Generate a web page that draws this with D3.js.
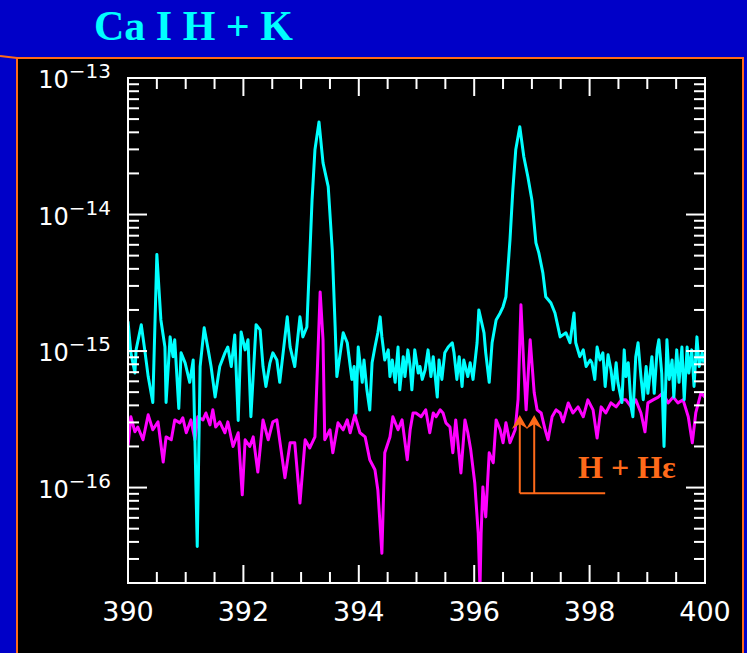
<!DOCTYPE html>
<html>
<head>
<meta charset="utf-8">
<script src="https://cdn.jsdelivr.net/npm/d3@7"></script>
<style>
  html, body { margin: 0; padding: 0; background: #0000c8; }
  svg { display: block; }
</style>
</head>
<body>
<div id="chart"></div>
<script>
// wavelength in nm, flux on a log axis
const cyanWl = [
  390.00, 390.05, 390.12, 390.14, 390.23, 390.29, 390.35, 390.43, 390.50, 390.57,
  390.64, 390.66, 390.73, 390.78, 390.81, 390.88, 390.92, 390.99, 391.07, 391.13,
  391.20, 391.25, 391.32, 391.39, 391.44, 391.51, 391.59, 391.68, 391.73, 391.79,
  391.85, 391.91, 391.96, 392.03, 392.08, 392.13, 392.22, 392.29, 392.34, 392.39,
  392.46, 392.51, 392.58, 392.63, 392.76, 392.81, 392.89, 392.98, 393.03, 393.10,
  393.19, 393.24, 393.31, 393.38, 393.47, 393.54, 393.59,
  393.62, 393.67, 393.73, 393.80, 393.83, 393.88, 393.92, 393.95, 393.99, 394.06,
  394.09, 394.14, 394.19, 394.23, 394.28, 394.33, 394.37, 394.40, 394.45, 394.51,
  394.54, 394.58, 394.63, 394.68, 394.71, 394.77, 394.80, 394.85, 394.89, 394.92,
  394.97, 395.03, 395.06, 395.10, 395.15, 395.20, 395.25, 395.29, 395.36, 395.39,
  395.44, 395.49, 395.55, 395.62, 395.65, 395.70, 395.74, 395.79, 395.82, 395.89,
  395.93, 395.98, 396.05, 396.08,
  396.17, 396.20, 396.26, 396.31, 396.38, 396.45, 396.50, 396.55, 396.62, 396.67,
  396.72, 396.79, 396.86, 396.93, 397.00, 397.07, 397.12, 397.19, 397.24, 397.33,
  397.40, 397.49, 397.59, 397.66, 397.73, 397.76, 397.83, 397.89, 397.94, 398.01,
  398.04, 398.09, 398.13, 398.18, 398.23, 398.27, 398.32, 398.37, 398.41, 398.46,
  398.49, 398.56, 398.60, 398.63, 398.67, 398.72, 398.75, 398.80, 398.84, 398.89,
  398.93, 398.98, 399.01, 399.08, 399.12, 399.17, 399.20, 399.25, 399.29, 399.34,
  399.38, 399.43, 399.46, 399.51, 399.55, 399.60, 399.64, 399.69, 399.72, 399.77,
  399.81, 399.86, 399.90, 399.95, 399.98
];
const cyanFlux = [
  1.65e-15, 9.7e-16, 6.9e-16, 1.02e-15, 1.56e-15, 1.02e-15, 6.5e-16, 4.2e-16, 5.1e-15, 1.69e-15,
  1.07e-15, 4.2e-16, 1.27e-15, 9.1e-16, 1.21e-15, 3.8e-16, 9.7e-16, 8.2e-16, 5.9e-16, 8.6e-16,
  3.7e-17, 7.7e-16, 1.48e-15, 1.02e-15, 7.7e-16, 4.6e-16, 7.7e-16, 9.7e-16, 1.07e-15, 7.7e-16,
  1.31e-15, 3.1e-16, 1.38e-15, 1.02e-15, 1.21e-15, 3.3e-16, 1.56e-15, 1.43e-15, 7.7e-16, 5.5e-16,
  8.2e-16, 9.7e-16, 8.6e-16, 5.9e-16, 1.78e-15, 1.07e-15, 7.7e-16, 1.78e-15, 1.27e-15, 1.50e-15,
  1.28e-14, 2.98e-14, 4.77e-14, 2.39e-14, 1.6e-14, 5.5e-15, 1.50e-15,
  6.5e-16, 9.1e-16, 1.36e-15, 1.15e-15, 9.1e-16, 6.2e-16, 7.7e-16, 3.5e-16, 1.07e-15, 5.9e-16,
  8.6e-16, 5.2e-16, 3.7e-16, 8.2e-16, 1.07e-15, 1.36e-15, 1.78e-15, 1.27e-15, 8.6e-16, 1.02e-15,
  6.5e-16, 8.6e-16, 5.9e-16, 1.07e-15, 5.2e-16, 9.1e-16, 6.5e-16, 1.02e-15, 7.7e-16, 5.2e-16,
  1.02e-15, 6.9e-16, 7.7e-16, 6.2e-16, 7.3e-16, 1.02e-15, 6.5e-16, 9.1e-16, 4.6e-16, 8.6e-16,
  6.2e-16, 9.7e-16, 1.07e-15, 1.15e-15, 9.7e-16, 6.2e-16, 9.1e-16, 5.5e-16, 8.6e-16, 6.5e-16,
  8.2e-16, 6.2e-16, 1.15e-15, 2.0e-15,
  1.36e-15, 9.7e-16, 5.9e-16, 1.15e-15, 1.69e-15, 1.9e-15, 2.11e-15, 2.5e-15, 6.5e-15, 1.52e-14,
  2.98e-14, 4.39e-14, 2.65e-14, 1.89e-14, 1.28e-14, 6.2e-15, 5.24e-15, 3.74e-15, 2.5e-15, 2.25e-15,
  1.9e-15, 1.27e-15, 1.36e-15, 1.15e-15, 1.9e-15, 1.15e-15, 9.1e-16, 1.02e-15, 7.7e-16, 8.6e-16,
  8.2e-16, 6.2e-16, 1.07e-15, 8.6e-16, 9.7e-16, 5.5e-16, 9.4e-16, 7.3e-16, 5.2e-16, 8.2e-16,
  5.9e-16, 4.2e-16, 1.02e-15, 6.5e-16, 8.2e-16, 3.9e-16, 3.3e-16, 9.1e-16, 1.15e-15, 6.5e-16,
  4.4e-16, 7.7e-16, 4.9e-16, 9.1e-16, 4.9e-16, 1.02e-15, 1.21e-15, 6.9e-16, 2.0e-16, 1.21e-15,
  6.2e-16, 8.6e-16, 4.6e-16, 1.02e-15, 5.9e-16, 1.07e-15, 4.4e-16, 1.07e-15, 6.9e-16, 1.02e-15,
  5.5e-16, 1.27e-15, 7.7e-16, 9.7e-16, 8.2e-16
];

const magentaWl = [
  390.00, 390.05, 390.12, 390.17, 390.26, 390.35, 390.43, 390.52, 390.61, 390.66,
  390.75, 390.81, 390.90, 390.95, 391.01, 391.09, 391.16, 391.21, 391.30, 391.35,
  391.42, 391.47, 391.52, 391.59, 391.68, 391.73, 391.82, 391.91, 391.98, 392.03,
  392.11, 392.17, 392.25, 392.34, 392.43, 392.51, 392.58, 392.72, 392.81, 392.89,
  392.98, 393.07, 393.15, 393.24, 393.33, 393.38, 393.41, 393.50, 393.55, 393.64,
  393.73, 393.80, 393.85, 393.93, 394.02, 394.11, 394.19, 394.28, 394.33, 394.40,
  394.45, 394.54, 394.59, 394.68, 394.75, 394.84, 394.89, 394.94, 394.99, 395.08,
  395.16, 395.23, 395.29, 395.34, 395.41, 395.46, 395.51, 395.58, 395.63, 395.68,
  395.77, 395.84, 395.89, 395.94, 396.01, 396.07, 396.10, 396.12, 396.15, 396.20,
  396.26, 396.33, 396.38, 396.45, 396.50, 396.55, 396.62, 396.71, 396.76, 396.81,
  396.86, 396.90, 396.97, 397.04, 397.09, 397.16, 397.23, 397.28, 397.35, 397.42,
  397.49, 397.54, 397.63, 397.71, 397.80, 397.89, 397.97, 398.06, 398.13, 398.20,
  398.28, 398.37, 398.46, 398.55, 398.63, 398.72, 398.80, 398.89, 398.96, 399.01,
  399.10, 399.19, 399.27, 399.36, 399.45, 399.53, 399.62, 399.71, 399.78, 399.84,
  399.93, 400.00
];
const magentaFlux = [
  2.0e-16, 3.3e-16, 2.56e-16, 2.78e-16, 2.24e-16, 3.41e-16, 2.65e-16, 3.03e-16, 1.54e-16, 2.35e-16,
  2.24e-16, 3.13e-16, 2.98e-16, 3.24e-16, 2.52e-16, 3.13e-16, 2.24e-16, 3.3e-16, 3.13e-16, 3.52e-16,
  2.88e-16, 3.71e-16, 2.78e-16, 3.03e-16, 2.52e-16, 3.03e-16, 2.0e-16, 2.52e-16, 8.85e-17, 2.24e-16,
  2.0e-16, 2.35e-16, 1.30e-16, 3.13e-16, 2.24e-16, 3.03e-16, 3.13e-16, 1.18e-16, 2.13e-16, 2.13e-16,
  7.7e-17, 2.24e-16, 1.95e-16, 2.35e-16, 2.71e-15, 1.21e-15, 2.24e-16, 2.65e-16, 1.8e-16, 2.98e-16,
  2.65e-16, 3.13e-16, 2.52e-16, 3.41e-16, 2.52e-16, 2.35e-16, 1.6e-16, 1.35e-16, 9.6e-17, 3.3e-17,
  1.8e-16, 2.35e-16, 3.3e-16, 2.65e-16, 3.13e-16, 1.6e-16, 2.65e-16, 3.52e-16, 3.52e-16, 3.3e-16,
  3.71e-16, 2.52e-16, 3.52e-16, 3.3e-16, 3.71e-16, 3.52e-16, 2.98e-16, 2.78e-16, 1.8e-16, 3.13e-16,
  1.28e-16, 3.13e-16, 2.52e-16, 1.89e-16, 1.08e-16, 4.6e-17, 1.8e-17, 4.6e-17, 1.01e-16, 6.1e-17,
  1.8e-16, 1.52e-16, 3.13e-16, 2.65e-16, 2.13e-16, 2.98e-16, 2.13e-16, 2.65e-16, 4.4e-16, 2.18e-15,
  7.65e-16, 3.71e-16, 1.21e-15, 4.94e-16, 3.71e-16, 3.52e-16, 2.65e-16, 2.24e-16, 3.3e-16, 3.71e-16,
  3.52e-16, 3.03e-16, 4.17e-16, 3.52e-16, 3.9e-16, 3.3e-16, 4.39e-16, 3.71e-16, 2.31e-16, 3.9e-16,
  3.52e-16, 4.17e-16, 3.9e-16, 4.39e-16, 4.39e-16, 3.9e-16, 4.39e-16, 3.52e-16, 2.56e-16, 4.17e-16,
  4.39e-16, 4.6e-16, 4.94e-16, 4.17e-16, 4.6e-16, 4.17e-16, 4.39e-16, 3.3e-16, 2.13e-16, 3.52e-16,
  4.94e-16, 4.6e-16
];

const xTickLabels = [390, 392, 394, 396, 398, 400];
const yTickLabels = [1e-13, 1e-14, 1e-15, 1e-16];

// H + H-epsilon marker
const arrowWl = [396.79, 397.04];
const arrowFlux = [3.4e-16, 9.1e-17];
const bracketEndWl = 398.27;
const noteWl = 397.80;
const noteFlux = 1.18e-16;

const width = 747;
const height = 653;
const box = { left: 128, right: 705, top: 78, bottom: 583 };

const svg = d3.select(`#chart`).append(`svg`)
    .attr(`width`, width)
    .attr(`height`, height);

svg.append(`rect`)
    .attr(`width`, width)
    .attr(`height`, height)
    .attr(`fill`, `#0000c8`);

svg.append(`text`)
    .attr(`x`, 94)
    .attr(`y`, 40)
    .attr(`fill`, `#00ffff`)
    .style(`font`, `bold 42px "Liberation Serif", serif`)
    .text(`Ca I H + K`);

// black panel with its orange edge
svg.append(`line`)
    .attr(`x1`, 0).attr(`y1`, 56)
    .attr(`x2`, 17).attr(`y2`, 58)
    .attr(`stroke`, `#ff6a1a`)
    .attr(`stroke-width`, 2);
svg.append(`rect`)
    .attr(`x`, 17)
    .attr(`y`, 58)
    .attr(`width`, 726)
    .attr(`height`, 640)
    .attr(`fill`, `#000`)
    .attr(`stroke`, `#ff6a1a`)
    .attr(`stroke-width`, 2);

const x = d3.scaleLinear()
    .domain([390, 400])
    .range([box.left, box.right]);
const y = d3.scaleLog()
    .domain([2e-17, 1e-13])
    .range([box.bottom, box.top]);

svg.append(`clipPath`)
    .attr(`id`, `plot-clip`)
  .append(`rect`)
    .attr(`x`, box.left)
    .attr(`y`, box.top)
    .attr(`width`, box.right - box.left)
    .attr(`height`, box.bottom - box.top);

const line = d3.line()
    .x((d) => x(d[0]))
    .y((d) => y(d[1]));

const plot = svg.append(`g`).attr(`clip-path`, `url(#plot-clip)`);

plot.append(`path`)
    .datum(d3.zip(magentaWl, magentaFlux))
    .attr(`d`, line)
    .attr(`fill`, `none`)
    .attr(`stroke`, `#ff00ff`)
    .attr(`stroke-width`, 3)
    .attr(`stroke-linejoin`, `round`);

plot.append(`path`)
    .datum(d3.zip(cyanWl, cyanFlux))
    .attr(`d`, line)
    .attr(`fill`, `none`)
    .attr(`stroke`, `#00ffff`)
    .attr(`stroke-width`, 3)
    .attr(`stroke-linejoin`, `round`);

// frame and inward ticks
const axes = svg.append(`g`)
    .attr(`stroke`, `#fff`)
    .attr(`stroke-width`, 2);

axes.append(`rect`)
    .attr(`x`, box.left)
    .attr(`y`, box.top)
    .attr(`width`, box.right - box.left)
    .attr(`height`, box.bottom - box.top)
    .attr(`fill`, `none`);

const isMajorX = (v) => xTickLabels.includes(Math.round(v * 100) / 100);
x.ticks(20).forEach((v) => {
  const len = isMajorX(v) ? 18 : 11;
  axes.append(`line`)
      .attr(`x1`, x(v)).attr(`x2`, x(v))
      .attr(`y1`, box.bottom).attr(`y2`, box.bottom - len);
  axes.append(`line`)
      .attr(`x1`, x(v)).attr(`x2`, x(v))
      .attr(`y1`, box.top).attr(`y2`, box.top + len);
});

const isMajorY = (v) => Math.abs(Math.log10(v) - Math.round(Math.log10(v))) < 1e-6;
y.ticks().forEach((v) => {
  const len = isMajorY(v) ? 19 : 11;
  axes.append(`line`)
      .attr(`x1`, box.left).attr(`x2`, box.left + len)
      .attr(`y1`, y(v)).attr(`y2`, y(v));
  axes.append(`line`)
      .attr(`x1`, box.right).attr(`x2`, box.right - len)
      .attr(`y1`, y(v)).attr(`y2`, y(v));
});

svg.append(`g`)
    .selectAll(`text`)
    .data(xTickLabels)
  .enter().append(`text`)
    .attr(`x`, (d) => x(d))
    .attr(`y`, box.bottom + 38)
    .attr(`text-anchor`, `middle`)
    .attr(`fill`, `#fff`)
    .style(`font`, `27px "DejaVu Sans", sans-serif`)
    .text((d) => d);

const yLabels = svg.append(`g`)
    .selectAll(`text`)
    .data(yTickLabels)
  .enter().append(`text`)
    .attr(`x`, 111)
    .attr(`y`, (d) => y(d) + 10)
    .attr(`text-anchor`, `end`)
    .attr(`fill`, `#fff`)
    .style(`font`, `24px "DejaVu Sans", sans-serif`);
yLabels.append(`tspan`).text(`10`);
yLabels.append(`tspan`)
    .attr(`dy`, -10)
    .style(`font-size`, `20px`)
    .text((d) => `\u2212${Math.round(-Math.log10(d))}`);

// arrows for H and H-epsilon
const note = svg.append(`g`)
    .attr(`stroke`, `#ff6a1a`)
    .attr(`fill`, `#ff6a1a`)
    .attr(`stroke-width`, 2);

arrowWl.forEach((wl) => {
  const ax = x(wl);
  const tip = y(arrowFlux[0]);
  note.append(`line`)
      .attr(`x1`, ax).attr(`x2`, ax)
      .attr(`y1`, y(arrowFlux[1])).attr(`y2`, tip + 4);
  note.append(`path`)
      .attr(`stroke`, `none`)
      .attr(`d`, `M${ax},${tip} L${ax + 8},${tip + 14} L${ax},${tip + 9} L${ax - 8},${tip + 14} Z`);
});

note.append(`line`)
    .attr(`x1`, x(arrowWl[0])).attr(`x2`, x(bracketEndWl))
    .attr(`y1`, y(arrowFlux[1])).attr(`y2`, y(arrowFlux[1]));

svg.append(`text`)
    .attr(`x`, x(noteWl))
    .attr(`y`, y(noteFlux))
    .attr(`fill`, `#ff6a1a`)
    .style(`font`, `bold 32px "Liberation Serif", serif`)
    .text(`H + H\u03b5`);
</script>
</body>
</html>
